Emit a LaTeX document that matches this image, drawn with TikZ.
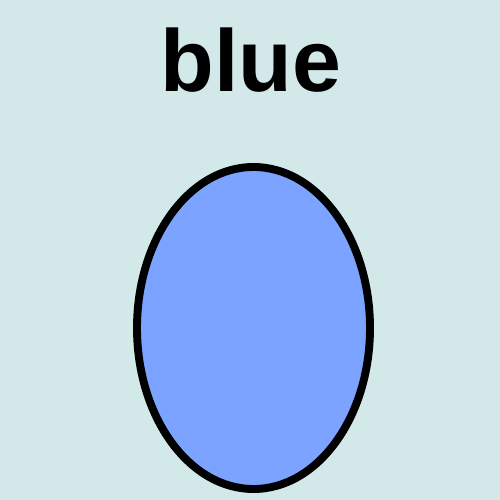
\documentclass[tikz,border=0pt]{standalone}
\usepackage{fontspec}
\setmainfont{Liberation Sans}
\usetikzlibrary{shapes.geometric}
\definecolor{bgcolor}{HTML}{D3E9E9}
\definecolor{eggblue}{HTML}{7BA3FF}
\begin{document}
\begin{tikzpicture}
        [
            title/.style={anchor=base, font=\fontsize{50pt}{60pt}\selectfont\bfseries},
            egg/.style={ellipse, draw, line width=4.5pt, fill=eggblue, inner sep=0pt, minimum width=4.66cm, minimum height=6.44cm},
        ]
            \fill[bgcolor] (0,0) rectangle (10,-10);
            \useasboundingbox (0,0) rectangle (10,-10);
            \node[title] (label) at (5.02, -1.84) {blue};
            \node[egg] (shape) at (5.07, -6.56) {};
        \end{tikzpicture}
\end{document}
